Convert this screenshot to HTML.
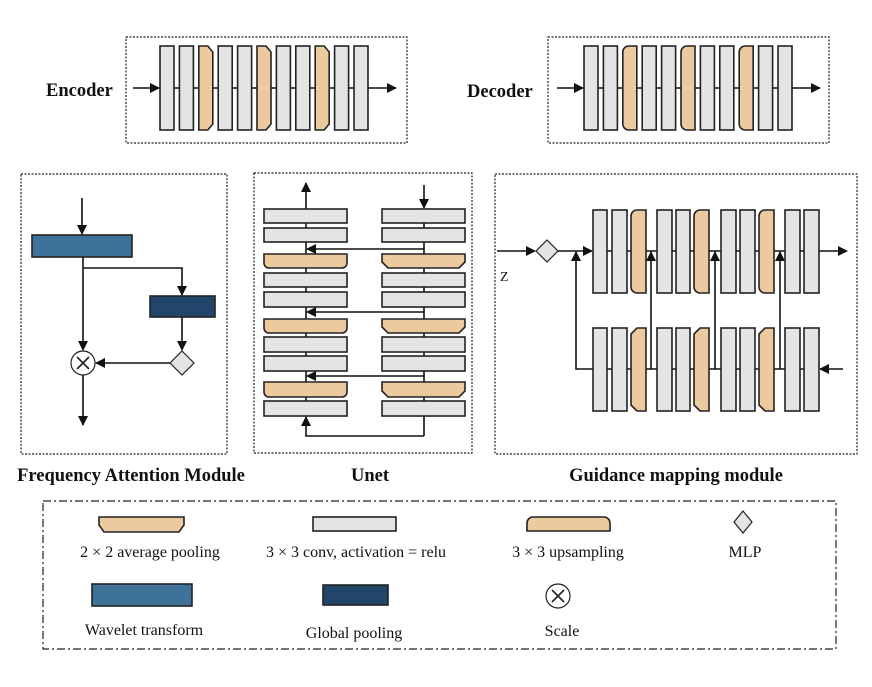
<!DOCTYPE html>
<html><head><meta charset="utf-8"><style>
html,body{margin:0;padding:0;background:#fff;}
svg{display:block;}
text{font-family:"Liberation Serif",serif;fill:#111;}
</style></head><body>
<svg width="872" height="687" viewBox="0 0 872 687" xmlns="http://www.w3.org/2000/svg">
<defs>
<marker id="ah" markerWidth="10" markerHeight="10" refX="9" refY="5" orient="auto" markerUnits="userSpaceOnUse"><path d="M0,0 L10,5 L0,10 z" fill="#111"/></marker>
</defs>
<g fill="none" stroke="#222" stroke-width="1.2" stroke-dasharray="2,1.5">
<rect x="126" y="37" width="281" height="106"/>
<rect x="548" y="37" width="281" height="106"/>
<rect x="21" y="174" width="206" height="280"/>
<rect x="254" y="173" width="218" height="280"/>
<rect x="495" y="174" width="362" height="280"/>
</g>
<rect x="43" y="501" width="793" height="148" fill="none" stroke="#222" stroke-width="1.2" stroke-dasharray="8,3,2,3"/>

<g stroke="#111" stroke-width="1.6" fill="none">
<line x1="133" y1="88" x2="159" y2="88" marker-end="url(#ah)"/>
<line x1="160" y1="88" x2="368" y2="88"/>
<line x1="368" y1="88" x2="396" y2="88" marker-end="url(#ah)"/>
<line x1="557" y1="88" x2="583" y2="88" marker-end="url(#ah)"/>
<line x1="584" y1="88" x2="792" y2="88"/>
<line x1="792" y1="88" x2="820" y2="88" marker-end="url(#ah)"/>
<line x1="82" y1="198" x2="82" y2="234" marker-end="url(#ah)"/>
<line x1="83" y1="257" x2="83" y2="350" marker-end="url(#ah)"/>
<polyline points="83,268 182,268 182,295" marker-end="url(#ah)"/>
<line x1="182" y1="317" x2="182" y2="350" marker-end="url(#ah)"/>
<line x1="170" y1="363" x2="96" y2="363" marker-end="url(#ah)"/>
<line x1="83" y1="375" x2="83" y2="425" marker-end="url(#ah)"/>
<line x1="306" y1="416" x2="306" y2="209"/>
<line x1="306" y1="209" x2="306" y2="183" marker-end="url(#ah)"/>
<line x1="424" y1="185" x2="424" y2="208" marker-end="url(#ah)"/>
<line x1="424" y1="209" x2="424" y2="436"/>
<polyline points="424,436 306,436 306,417" marker-end="url(#ah)"/>
<line x1="424" y1="249" x2="307" y2="249" marker-end="url(#ah)"/>
<line x1="424" y1="312" x2="307" y2="312" marker-end="url(#ah)"/>
<line x1="424" y1="376" x2="307" y2="376" marker-end="url(#ah)"/>
<line x1="497" y1="251" x2="535" y2="251" marker-end="url(#ah)"/>
<line x1="558" y1="251" x2="592" y2="251" marker-end="url(#ah)"/>
<line x1="593" y1="251" x2="819" y2="251"/>
<line x1="819" y1="251" x2="847" y2="251" marker-end="url(#ah)"/>
<line x1="843" y1="369" x2="820" y2="369" marker-end="url(#ah)"/>
<line x1="593" y1="369" x2="819" y2="369"/>
<polyline points="593,369 576,369 576,252" marker-end="url(#ah)"/>
<line x1="651" y1="369" x2="651" y2="252" marker-end="url(#ah)"/>
<line x1="715" y1="369" x2="715" y2="252" marker-end="url(#ah)"/>
<line x1="780" y1="369" x2="780" y2="252" marker-end="url(#ah)"/>
</g>

<g stroke="#222" stroke-width="1.6">
<g fill="#e4e3e6">
<rect x="160" y="46" width="14" height="84"/><rect x="179.4" y="46" width="14" height="84"/>
<rect x="218.2" y="46" width="14" height="84"/><rect x="237.6" y="46" width="14" height="84"/>
<rect x="276.4" y="46" width="14" height="84"/><rect x="295.8" y="46" width="14" height="84"/>
<rect x="334.6" y="46" width="14" height="84"/><rect x="354" y="46" width="14" height="84"/>
</g>
<g fill="#edc9a0">
<path d="M198.8,46 h9 l5,6 v72 l-5,6 h-9 z"/>
<path d="M257,46 h9 l5,6 v72 l-5,6 h-9 z"/>
<path d="M315.2,46 h9 l5,6 v72 l-5,6 h-9 z"/>
</g>
<g fill="#e4e3e6">
<rect x="584" y="46" width="14" height="84"/><rect x="603.4" y="46" width="14" height="84"/>
<rect x="642.2" y="46" width="14" height="84"/><rect x="661.6" y="46" width="14" height="84"/>
<rect x="700.4" y="46" width="14" height="84"/><rect x="719.8" y="46" width="14" height="84"/>
<rect x="758.6" y="46" width="14" height="84"/><rect x="778" y="46" width="14" height="84"/>
</g>
<g fill="#edc9a0">
<path d="M636.8,46 v84 h-8 a6,6 0 0 1 -6,-6 v-72 a6,6 0 0 1 6,-6 z"/>
<path d="M695,46 v84 h-8 a6,6 0 0 1 -6,-6 v-72 a6,6 0 0 1 6,-6 z"/>
<path d="M753.2,46 v84 h-8 a6,6 0 0 1 -6,-6 v-72 a6,6 0 0 1 6,-6 z"/>
</g>
<rect x="32" y="235" width="100" height="22" fill="#3f7299"/>
<rect x="150" y="296" width="65" height="21" fill="#21466a"/>
<path d="M182,351 L194,363 L182,375 L170,363 z" fill="#e4e3e6" stroke-width="1.2"/>
<circle cx="83" cy="363" r="12" fill="#fff" stroke-width="1.2"/>
<path d="M77,357 L89,369 M89,357 L77,369" stroke-width="1.6"/>
<g fill="#e4e3e6">
<rect x="264" y="209" width="83" height="14"/><rect x="264" y="228" width="83" height="14"/>
<rect x="264" y="273" width="83" height="14"/><rect x="264" y="292" width="83" height="15"/>
<rect x="264" y="337" width="83" height="15"/><rect x="264" y="356" width="83" height="15"/>
<rect x="264" y="401" width="83" height="15"/>
<rect x="382" y="209" width="83" height="14"/><rect x="382" y="228" width="83" height="14"/>
<rect x="382" y="273" width="83" height="14"/><rect x="382" y="292" width="83" height="15"/>
<rect x="382" y="337" width="83" height="15"/><rect x="382" y="356" width="83" height="15"/>
<rect x="382" y="401" width="83" height="15"/>
</g>
<g fill="#edc9a0">
<path d="M264,254 h83 v9 a5,5 0 0 1 -5,5 h-73 a5,5 0 0 1 -5,-5 z"/>
<path d="M264,319 h83 v9 a5,5 0 0 1 -5,5 h-73 a5,5 0 0 1 -5,-5 z"/>
<path d="M264,382 h83 v10 a5,5 0 0 1 -5,5 h-73 a5,5 0 0 1 -5,-5 z"/>
<path d="M382,254 h83 v8 l-6,6 h-71 l-6,-6 z"/>
<path d="M382,319 h83 v8 l-6,6 h-71 l-6,-6 z"/>
<path d="M382,382 h83 v9 l-6,6 h-71 l-6,-6 z"/>
</g>
<path d="M547,240 L558,251 L547,262 L536,251 z" fill="#e4e3e6" stroke-width="1.2"/>
<g fill="#e4e3e6">
<rect x="593" y="210" width="14" height="83"/><rect x="612" y="210" width="15" height="83"/>
<rect x="657" y="210" width="15" height="83"/><rect x="676" y="210" width="14" height="83"/>
<rect x="721" y="210" width="15" height="83"/><rect x="740" y="210" width="15" height="83"/>
<rect x="785" y="210" width="15" height="83"/><rect x="804" y="210" width="15" height="83"/>
<rect x="593" y="328" width="14" height="83"/><rect x="612" y="328" width="15" height="83"/>
<rect x="657" y="328" width="15" height="83"/><rect x="676" y="328" width="14" height="83"/>
<rect x="721" y="328" width="15" height="83"/><rect x="740" y="328" width="15" height="83"/>
<rect x="785" y="328" width="15" height="83"/><rect x="804" y="328" width="15" height="83"/>
</g>
<g fill="#edc9a0">
<path d="M646,210 v83 h-9 a6,6 0 0 1 -6,-6 v-71 a6,6 0 0 1 6,-6 z"/>
<path d="M709,210 v83 h-9 a6,6 0 0 1 -6,-6 v-71 a6,6 0 0 1 6,-6 z"/>
<path d="M774,210 v83 h-9 a6,6 0 0 1 -6,-6 v-71 a6,6 0 0 1 6,-6 z"/>
<path d="M646,328 v83 h-9 l-6,-6 v-71 l6,-6 z"/>
<path d="M709,328 v83 h-9 l-6,-6 v-71 l6,-6 z"/>
<path d="M774,328 v83 h-9 l-6,-6 v-71 l6,-6 z"/>
</g>
<path d="M99,517 h85 v8 l-5,7 h-75 l-5,-7 z" fill="#edc9a0"/>
<rect x="313" y="517" width="83" height="14" fill="#e4e3e6"/>
<path d="M527,531 v-8 a6,6 0 0 1 6,-6 h71 a6,6 0 0 1 6,6 v8 z" fill="#edc9a0"/>
<path d="M743,511 L752,522 L743,533 L734,522 z" fill="#e4e3e6" stroke-width="1.2"/>
<rect x="92" y="584" width="100" height="22" fill="#3f7299"/>
<rect x="323" y="585" width="65" height="20" fill="#21466a"/>
<circle cx="558" cy="596" r="12" fill="#fff" stroke-width="1.2"/>
<path d="M552,590 L564,602 M564,590 L552,602" stroke-width="1.6"/>
</g>

<g font-weight="bold">
<text x="46" y="96" font-size="18.5">Encoder</text>
<text x="467" y="97" font-size="18.5">Decoder</text>
<text x="131" y="481" text-anchor="middle" font-size="18.5">Frequency Attention Module</text>
<text x="370" y="481" text-anchor="middle" font-size="18.5">Unet</text>
<text x="676" y="481" text-anchor="middle" font-size="18.5">Guidance mapping module</text>
</g>
<text x="500" y="281" font-size="14">Z</text>
<g font-size="16" text-anchor="middle">
<text x="150" y="557">2 × 2 average pooling</text>
<text x="356" y="557">3 × 3 conv, activation = relu</text>
<text x="568" y="557">3 × 3 upsampling</text>
<text x="745" y="557">MLP</text>
<text x="144" y="635">Wavelet transform</text>
<text x="354" y="638">Global pooling</text>
<text x="562" y="636">Scale</text>
</g>
</svg>
</body></html>
